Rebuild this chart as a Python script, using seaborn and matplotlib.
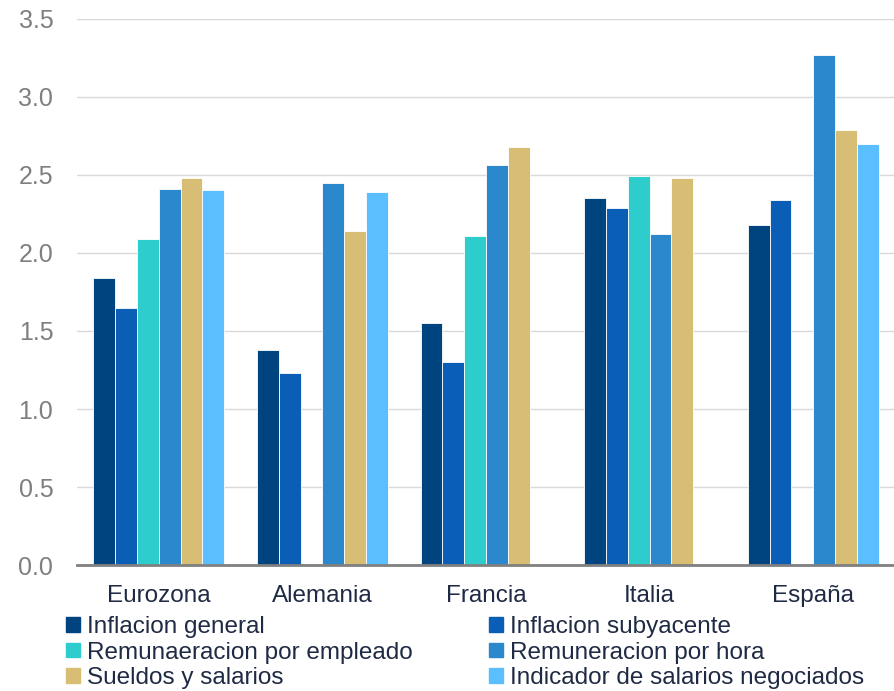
import matplotlib
matplotlib.use('Agg')
import matplotlib.pyplot as plt
import matplotlib.patches as mpatches
import pandas as pd
import numpy as np
import seaborn as sns

# 数据
paises = ['Eurozona', 'Alemania', 'Francia', 'Italia', 'España']
series = ['Inflacion general', 'Inflacion subyacente', 'Remunaeracion por empleado',
          'Remuneracion por hora', 'Sueldos y salarios', 'Indicador de salarios negociados']
inflacion_general = [1.84, 1.38, 1.55, 2.35, 2.18]
inflacion_subyacente = [1.65, 1.23, 1.30, 2.29, 2.34]
remun_empleado = [2.09, np.nan, 2.11, 2.49, np.nan]
remun_hora = [2.41, 2.45, 2.56, 2.12, 3.27]
sueldos_salarios = [2.48, 2.14, 2.68, 2.48, 2.79]
salarios_negociados = [2.40, 2.39, np.nan, np.nan, 2.70]
colores = ['#00447F', '#0B5EB5', '#2ECDCD', '#2B88CC', '#D8BD74', '#5BBEFF']

valores = [inflacion_general, inflacion_subyacente, remun_empleado,
           remun_hora, sueldos_salarios, salarios_negociados]
rows = []
for s, vals in zip(series, valores):
    for p, v in zip(paises, vals):
        rows.append({'pais': p, 'serie': s, 'valor': v})
df = pd.DataFrame(rows)

sns.set_style('white')
plt.rcParams['font.family'] = ['Liberation Sans', 'DejaVu Sans']

fig = plt.figure(figsize=(8.95, 6.91), dpi=100)
ax = fig.add_axes([0.086, 0.182, 0.914, 0.791])

sns.barplot(data=df, x='pais', y='valor', hue='serie', order=paises, hue_order=series,
            palette=colores, saturation=1, width=0.8, edgecolor='white', linewidth=0.6,
            ax=ax, legend=False)

ax.set_ylim(0, 3.5)
ax.set_xlim(-0.5, 4.5)
ax.set_yticks(np.arange(0, 3.51, 0.5))
ax.set_yticklabels([f'{v:.1f}' for v in np.arange(0, 3.51, 0.5)])
ax.yaxis.grid(True, color='#D9D9D9', linewidth=1)
ax.set_axisbelow(True)
ax.set_xlabel('')
ax.set_ylabel('')

for s in ['left', 'right', 'top']:
    ax.spines[s].set_visible(False)
ax.spines['bottom'].set_color('#808080')
ax.spines['bottom'].set_linewidth(2)

ax.tick_params(axis='y', length=0, labelsize=18, labelcolor='#7F7F7F', pad=17)
ax.tick_params(axis='x', which='major', length=0, labelsize=17.5, labelcolor='#1F2A44', pad=14)
ax.set_xticks(np.arange(-0.5, 4.6, 1), minor=True)
ax.tick_params(axis='x', which='minor', length=8, width=2, color='#808080', direction='out')

# 图例
handles = [mpatches.Patch(color=c, label=s) for s, c in zip(series, colores)]
orden = [0, 2, 4, 1, 3, 5]
fig.legend([handles[i] for i in orden], [series[i] for i in orden], ncol=2,
           loc='upper left', bbox_to_anchor=(0.074, 0.108), frameon=False,
           fontsize=17.5, labelcolor='#1F2A44', handlelength=0.55, handleheight=0.55,
           handletextpad=0.3, columnspacing=3.15, labelspacing=0.14, borderpad=0,
           borderaxespad=0)

plt.savefig('out.png', dpi=100)
